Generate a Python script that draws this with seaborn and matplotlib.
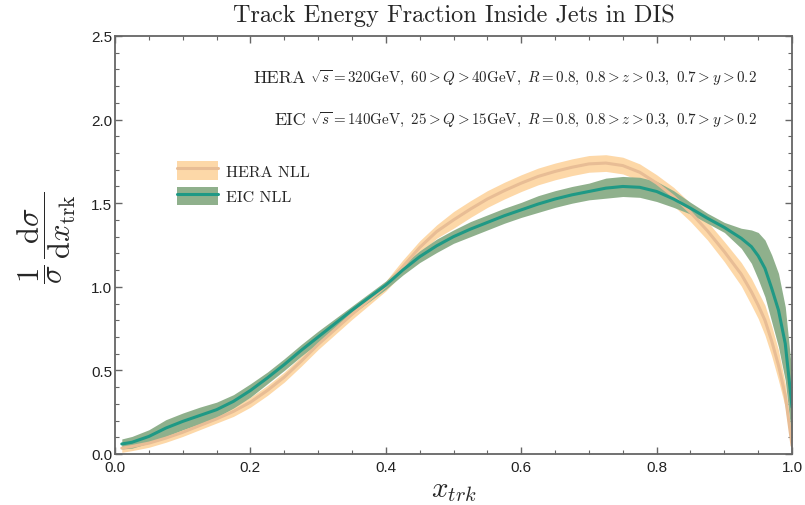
import matplotlib
matplotlib.use("Agg")
import matplotlib.pyplot as plt
import seaborn as sns
import pandas as pd
from matplotlib.patches import Patch
from matplotlib.lines import Line2D
from matplotlib.ticker import MultipleLocator

# data
x_trk = [0.01, 0.025, 0.05, 0.075, 0.1, 0.125, 0.15, 0.175, 0.2, 0.225, 0.25, 0.275,
         0.3, 0.325, 0.35, 0.375, 0.4, 0.425, 0.45, 0.475, 0.5, 0.525, 0.55, 0.575,
         0.6, 0.625, 0.65, 0.675, 0.7, 0.725, 0.75, 0.775, 0.8, 0.825, 0.85, 0.875,
         0.9, 0.925, 0.94, 0.95, 0.96, 0.97, 0.98, 0.99, 1.0]
hera_mid = [0.035, 0.045, 0.065, 0.095, 0.13, 0.17, 0.21, 0.255, 0.31, 0.38, 0.46, 0.555,
            0.655, 0.745, 0.835, 0.92, 1.005, 1.12, 1.235, 1.33, 1.40, 1.465, 1.525, 1.575,
            1.62, 1.66, 1.69, 1.715, 1.735, 1.74, 1.725, 1.685, 1.62, 1.54, 1.445, 1.335,
            1.21, 1.075, 0.97, 0.89, 0.80, 0.675, 0.53, 0.35, 0.05]
hera_err = [0.025, 0.025, 0.025, 0.025, 0.025, 0.025, 0.025, 0.03, 0.03, 0.03, 0.03, 0.03,
            0.03, 0.03, 0.03, 0.03, 0.03, 0.04, 0.04, 0.04, 0.05, 0.05, 0.05, 0.05,
            0.05, 0.05, 0.05, 0.05, 0.05, 0.05, 0.05, 0.05, 0.05, 0.055, 0.055, 0.055,
            0.06, 0.07, 0.08, 0.08, 0.09, 0.09, 0.09, 0.07, 0.04]
eic_mid = [0.06, 0.07, 0.105, 0.155, 0.195, 0.23, 0.265, 0.315, 0.38, 0.455, 0.535, 0.62,
           0.70, 0.78, 0.86, 0.935, 1.01, 1.10, 1.18, 1.245, 1.30, 1.345, 1.385, 1.425,
           1.46, 1.495, 1.525, 1.55, 1.57, 1.59, 1.60, 1.595, 1.57, 1.525, 1.47, 1.41,
           1.355, 1.29, 1.24, 1.185, 1.11, 0.99, 0.86, 0.66, 0.28]
eic_err = [0.03, 0.035, 0.04, 0.05, 0.05, 0.05, 0.045, 0.04, 0.04, 0.035, 0.035, 0.035,
           0.035, 0.03, 0.025, 0.025, 0.025, 0.03, 0.035, 0.04, 0.04, 0.045, 0.045, 0.045,
           0.045, 0.05, 0.05, 0.05, 0.05, 0.06, 0.06, 0.06, 0.06, 0.05, 0.035, 0.03,
           0.03, 0.06, 0.10, 0.14, 0.17, 0.2, 0.22, 0.22, 0.2]

df = pd.DataFrame({"x": x_trk, "hera": hera_mid, "hera_err": hera_err,
                   "eic": eic_mid, "eic_err": eic_err})

sns.set_style("ticks")
plt.rcParams["mathtext.fontset"] = "cm"
plt.rcParams["font.family"] = ["Liberation Sans", "DejaVu Sans"]

hera_fill = "#fdd8a8"
hera_line = "#e8bd95"
eic_fill = "#8fb08c"
eic_line = "#1f9985"
frame = "#666666"

fig = plt.figure(figsize=(8.05, 5.06), dpi=100)
ax = fig.add_axes([0.1429, 0.1008, 0.8410, 0.8261])

ax.fill_between(df["x"], df["hera"] - df["hera_err"], df["hera"] + df["hera_err"],
                color=hera_fill, lw=0)
sns.lineplot(data=df, x="x", y="hera", ax=ax, color=hera_line, lw=2.2)
ax.fill_between(df["x"], df["eic"] - df["eic_err"], df["eic"] + df["eic_err"],
                color=eic_fill, lw=0)
sns.lineplot(data=df, x="x", y="eic", ax=ax, color=eic_line, lw=2.2)

ax.set_xlim(0, 1)
ax.set_ylim(0, 2.5)
ax.xaxis.set_major_locator(MultipleLocator(0.2))
ax.xaxis.set_minor_locator(MultipleLocator(0.05))
ax.yaxis.set_major_locator(MultipleLocator(0.5))
ax.yaxis.set_minor_locator(MultipleLocator(0.1))
ax.xaxis.set_major_formatter(lambda v, p: f"{v:.1f}")
ax.yaxis.set_major_formatter(lambda v, p: f"{v:.1f}")
ax.tick_params(which="both", direction="in", top=True, right=True, color=frame,
               labelsize=11, labelcolor="#222222")
ax.tick_params(which="major", length=5, width=1)
ax.tick_params(which="minor", length=3, width=0.8)
ax.tick_params(axis="x", pad=4)
ax.tick_params(axis="y", pad=2)
for s in ax.spines.values():
    s.set_color(frame)
    s.set_linewidth(1.3)

ax.set_xlabel(r"$x_{trk}$", fontsize=21)
ax.xaxis.set_label_coords(0.5, -0.05)
ax.set_ylabel(r"$\dfrac{1}{\sigma}\,\dfrac{\mathrm{d}\sigma}{\mathrm{d}x_{\mathrm{trk}}}$",
              fontsize=22)
ax.yaxis.set_label_coords(-0.055, 0.52)

ax.text(0.5, 1.05, "Track Energy Fraction Inside Jets in DIS", transform=ax.transAxes,
        ha="center", va="center", fontsize=17.5, family="cmr10")

# experiment info
ax.text(0.282, 2.25, "HERA", ha="right", va="center", fontsize=13, family="cmr10")
ax.text(0.288, 2.25,
        r"$\sqrt{s}=320\mathrm{GeV},\ 60>Q>40\mathrm{GeV},\ R=0.8,\ 0.8>z>0.3,\ 0.7>y>0.2$",
        ha="left", va="center", fontsize=10.8)
ax.text(0.282, 2.0, "EIC", ha="right", va="center", fontsize=13, family="cmr10")
ax.text(0.288, 2.0,
        r"$\sqrt{s}=140\mathrm{GeV},\ 25>Q>15\mathrm{GeV},\ R=0.8,\ 0.8>z>0.3,\ 0.7>y>0.2$",
        ha="left", va="center", fontsize=10.8)

handles = [(Patch(color=hera_fill, lw=0), Line2D([], [], color=hera_line, lw=2.2)),
           (Patch(color=eic_fill, lw=0), Line2D([], [], color=eic_line, lw=2.2))]
ax.legend(handles, ["HERA NLL", "EIC NLL"], loc="upper left",
          bbox_to_anchor=(0.07, 0.735), frameon=False, handlelength=2.6,
          handleheight=1.4, handletextpad=0.5, labelspacing=0.45,
          prop={"family": "cmr10", "size": 11.5})

fig.savefig("out.png", dpi=100)
